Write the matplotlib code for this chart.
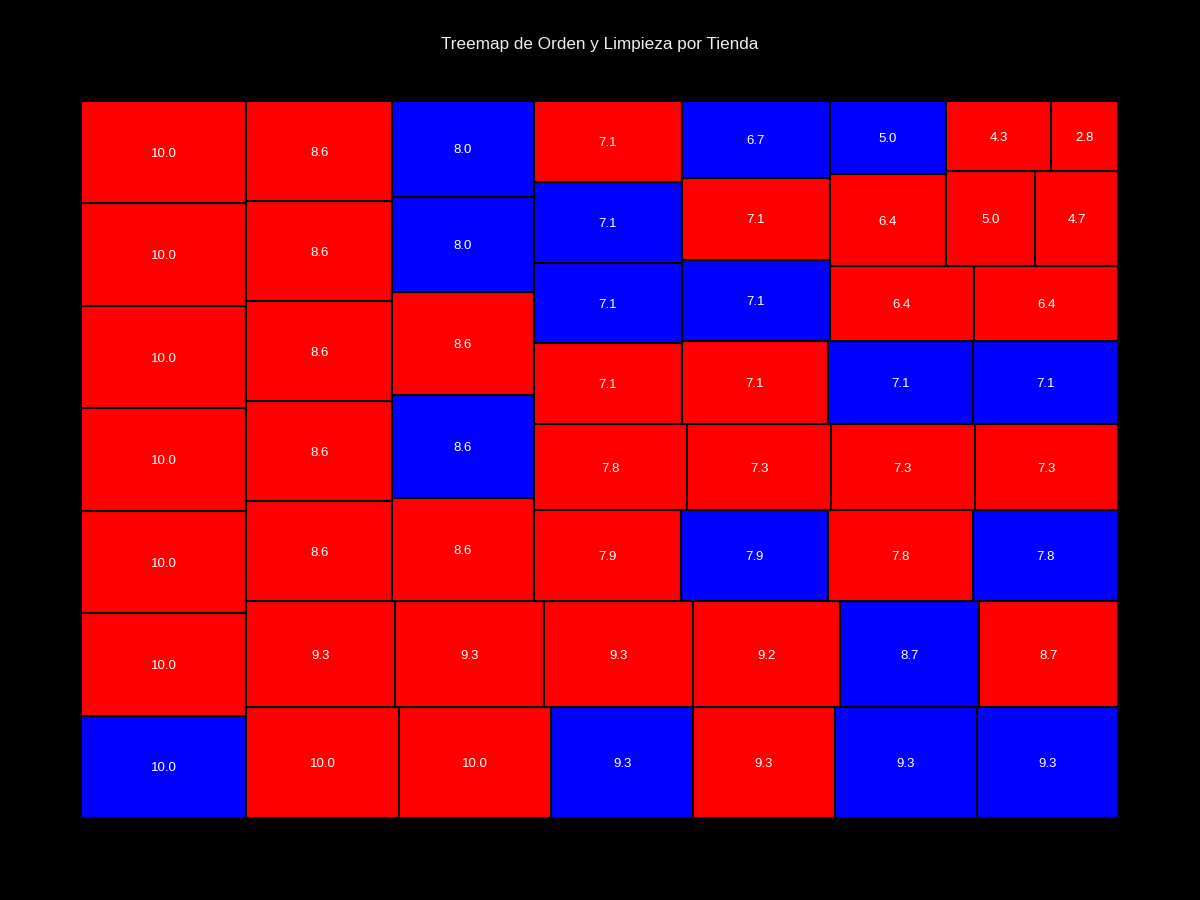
import matplotlib
matplotlib.use("Agg")
import matplotlib.pyplot as plt
from matplotlib.patches import Rectangle

plt.rcParams['font.family'] = ['Liberation Sans', 'DejaVu Sans']

# valores ordenados de mayor a menor (orden de squarify)
valores = [10.0, 10.0, 10.0, 10.0, 10.0, 10.0, 10.0,
           10.0, 10.0, 9.3, 9.3, 9.3, 9.3,
           9.3, 9.3, 9.3, 9.2, 8.7, 8.7,
           8.6, 8.6, 8.6, 8.6, 8.6,
           8.6, 8.6, 8.6, 8.0, 8.0,
           7.9, 7.9, 7.8, 7.8,
           7.8, 7.3, 7.3, 7.3,
           7.1, 7.1, 7.1, 7.1,
           7.1, 7.1, 7.1,
           7.1, 7.1, 6.7,
           6.4, 6.4, 6.4, 5.0,
           5.0, 4.7, 4.3, 2.8]
colores = ['blue', 'red', 'red', 'red', 'red', 'red', 'red',
           'red', 'red', 'blue', 'red', 'blue', 'blue',
           'red', 'red', 'red', 'red', 'blue', 'red',
           'red', 'red', 'red', 'red', 'red',
           'red', 'blue', 'red', 'blue', 'blue',
           'red', 'blue', 'red', 'blue',
           'red', 'red', 'red', 'red',
           'red', 'blue', 'blue', 'red',
           'red', 'blue', 'blue',
           'blue', 'red', 'blue',
           'red', 'red', 'red', 'blue',
           'red', 'red', 'red', 'red']


# algoritmo squarify
def layoutrow(sizes, x, y, dx, dy):
    width = sum(sizes) / dy
    rects = []
    for s in sizes:
        rects.append((x, y, width, s / width))
        y += s / width
    return rects


def layoutcol(sizes, x, y, dx, dy):
    height = sum(sizes) / dx
    rects = []
    for s in sizes:
        rects.append((x, y, s / height, height))
        x += s / height
    return rects


def layout(sizes, x, y, dx, dy):
    return layoutrow(sizes, x, y, dx, dy) if dx >= dy else layoutcol(sizes, x, y, dx, dy)


def leftover(sizes, x, y, dx, dy):
    if dx >= dy:
        w = sum(sizes) / dy
        return x + w, y, dx - w, dy
    h = sum(sizes) / dx
    return x, y + h, dx, dy - h


def worst_ratio(sizes, x, y, dx, dy):
    return max(max(r[2] / r[3], r[3] / r[2]) for r in layout(sizes, x, y, dx, dy))


def squarify(sizes, x, y, dx, dy):
    if len(sizes) == 0:
        return []
    if len(sizes) == 1:
        return layout(sizes, x, y, dx, dy)
    i = 1
    while i < len(sizes) and worst_ratio(sizes[:i], x, y, dx, dy) >= worst_ratio(sizes[:i + 1], x, y, dx, dy):
        i += 1
    lx, ly, ldx, ldy = leftover(sizes[:i], x, y, dx, dy)
    return layout(sizes[:i], x, y, dx, dy) + squarify(sizes[i:], lx, ly, ldx, ldy)


total = sum(valores)
norm = [v * 100 * 100 / total for v in valores]
rects = squarify(norm, 0, 0, 100, 100)

fig = plt.figure(figsize=(12, 9), dpi=100, facecolor='black')
ax = fig.add_axes([0.0675, 0.0911, 0.8645, 0.7967])
ax.set_facecolor('black')
for (x, y, w, h), v, c in zip(rects, valores, colores):
    ax.add_patch(Rectangle((x, y), w, h, facecolor=c, edgecolor='black', linewidth=1.5))
    ax.text(x + w / 2, y + h / 2 - 0.22, f"{v:.1f}", color='white', fontsize=9.5,
            ha='center', va='center')
ax.set_xlim(0, 100)
ax.set_ylim(0, 100)
ax.axis('off')

fig.text(0.5, 0.950, "Treemap de Orden y Limpieza por Tienda", color='#eeeeee',
         fontsize=12.3, ha='center', va='center')

fig.savefig('out.png', facecolor='black')
